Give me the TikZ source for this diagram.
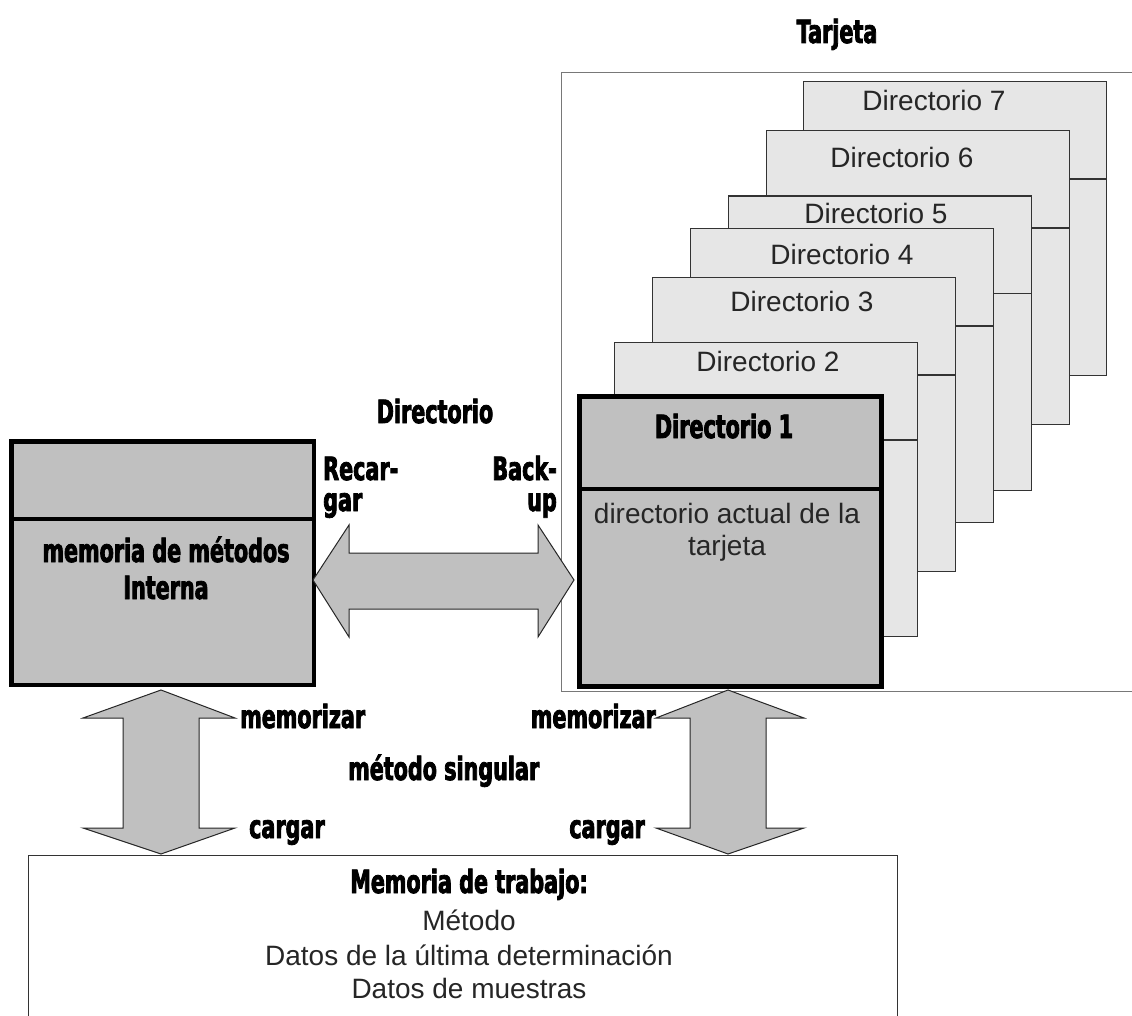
\documentclass[tikz,border=0pt]{standalone}
\usepackage{fontspec}
\setmainfont{Liberation Sans}
\newfontfamily\impf[FakeStretch=0.647,FakeBold=2.5]{DejaVu Sans}
\definecolor{boxgray}{RGB}{192,192,192}
\definecolor{dirgray}{RGB}{230,230,230}
\definecolor{cardline}{RGB}{120,120,120}
\begin{document}
\begin{tikzpicture}[x=1pt,y=-1pt,
  imp/.style={font=\impf\bfseries\fontsize{32}{32}\selectfont, inner sep=0pt},
  lite/.style={font=\fontsize{28}{33}\selectfont, inner sep=0pt, text=black!85},
  dirbox/.style={draw=black!80, fill=dirgray, line width=1.2pt, inner sep=0pt,
                 minimum width=303pt, minimum height=294pt, anchor=north west},
  mainbox/.style={draw=black, fill=boxgray, inner sep=0pt, anchor=north west},
  bigarrow/.style={draw=black!85, fill=boxgray, line width=1pt, line join=miter},
  thinline/.style={draw=black!80, line width=1.2pt}]
\useasboundingbox (0,0) rectangle (1132,1016);
\clip (0,0) rectangle (1132,1016);
\fill[white] (0,0) rectangle (1132,1016);

% card frame
\node[draw=cardline, line width=1.2pt, fill=white, inner sep=0pt, anchor=north west,
      minimum width=600pt, minimum height=619pt] (card) at (561,72) {};
\node[imp, anchor=base] (tcard) at (837,43) {Tarjeta};

% stacked directories
\foreach \n/\x/\y/\tx/\ty in {7/803/81/934/111, 6/765.5/130/902/168, 5/728/195.5/876/224,
                              4/689.5/228/842/265, 3/651.5/277/802/311, 2/614/342/768/371}{
  \node[dirbox] (d\n) at (\x,\y) {};
  \draw[thinline] ([yshift=-98pt]d\n.north west) -- ([yshift=-98pt]d\n.north east);
  \node[lite, anchor=base] (td\n) at (\tx,\ty) {Directorio \n};
}

% directory 1
\node[mainbox, line width=5pt, minimum width=301.5pt, minimum height=290pt] (d1) at (577,393.5) {};
\draw[line width=4pt] ([yshift=-95pt]d1.north west) -- ([yshift=-95pt]d1.north east);
\node[imp, anchor=base] (td1) at (724,438) {Directorio 1};
\node[lite, anchor=base] (td1a) at (727,523) {directorio actual de la};
\node[lite, anchor=base] (td1b) at (727,555) {tarjeta};

% internal memory
\node[mainbox, line width=4.5pt, minimum width=302.5pt, minimum height=243.5pt] (mem) at (9.25,439.25) {};
\draw[line width=4pt] ([yshift=-79.75pt]mem.north west) -- ([yshift=-79.75pt]mem.north east);
\node[imp, anchor=base] (tmem1) at (166,562) {memoria de métodos};
\node[imp, anchor=base] (tmem2) at (166,599) {Interna};

% working memory
\node[draw=black!80, line width=1.2pt, fill=white, inner sep=0pt, anchor=north west,
      minimum width=869pt, minimum height=200pt] (work) at (28,855) {};
\node[imp, anchor=base] (tw0) at (469,893) {Memoria de trabajo:};
\node[lite, anchor=base] (tw1) at (469,930) {Método};
\node[lite, anchor=base] (tw2) at (469,965) {Datos de la última determinación};
\node[lite, anchor=base] (tw3) at (469,998) {Datos de muestras};

% horizontal double arrow (Recargar / Back-up)
\draw[bigarrow] (313,580) -- (349,525) -- (349,553) -- (538,553) -- (538,525) -- (574,580)
  -- (538,637) -- (538,609) -- (349,609) -- (349,637) -- cycle;

% vertical double arrow (left)
\draw[bigarrow] (161,690) -- (235,718) -- (199,718) -- (199,828) -- (235,828) -- (161,854)
  -- (83,828) -- (123,828) -- (123,718) -- (83,718) -- cycle;

% vertical double arrow (right)
\draw[bigarrow] (728,690) -- (804,718) -- (766,718) -- (766,828) -- (804,828) -- (728,854)
  -- (656,828) -- (690,828) -- (690,718) -- (656,718) -- cycle;

% labels
\node[imp, anchor=base] (tdir) at (435,423) {Directorio};
\node[imp, anchor=base west] (trec1) at (323,480) {Recar-};
\node[imp, anchor=base west] (trec2) at (323,511) {gar};
\node[imp, anchor=base east] (tback1) at (557,480) {Back-};
\node[imp, anchor=base east] (tback2) at (557,511) {up};
\node[imp, anchor=base west] (tmemo1) at (240,728) {memorizar};
\node[imp, anchor=base east] (tmemo2) at (656,728) {memorizar};
\node[imp, anchor=base west] (tsing) at (348,780) {método singular};
\node[imp, anchor=base west] (tcarg1) at (249,838) {cargar};
\node[imp, anchor=base east] (tcarg2) at (645,838) {cargar};
\end{tikzpicture}
\end{document}
